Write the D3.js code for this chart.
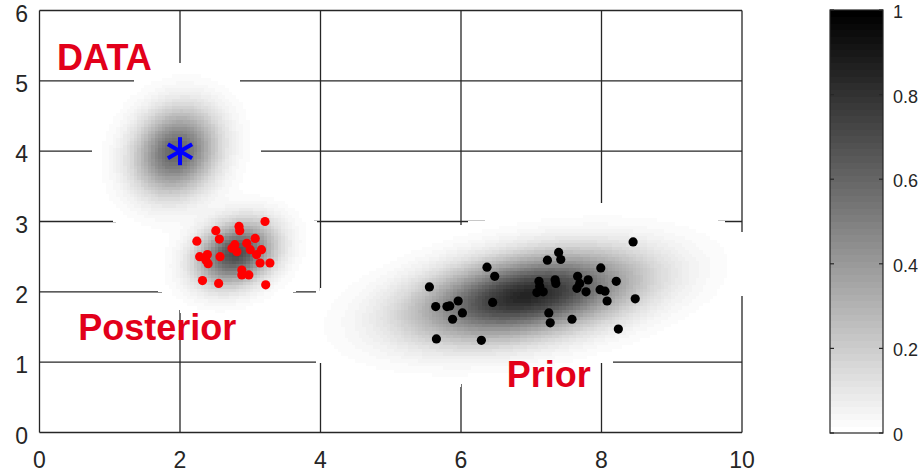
<!DOCTYPE html>
<html>
<head>
<meta charset="utf-8">
<script src="https://cdn.jsdelivr.net/npm/d3@7"></script>
<style>
  html, body { margin: 0; padding: 0; background: #ffffff; }
  svg { display: block; font-family: "Liberation Sans", Arial, Helvetica, sans-serif; }
</style>
</head>
<body>
<svg id="chart" width="921" height="474"></svg>
<script>
// ---- axis ticks ----
const xTicks = [0, 2, 4, 6, 8, 10];
const yTicks = [0, 1, 2, 3, 4, 5, 6];
const colorTicks = [0, 0.2, 0.4, 0.6, 0.8, 1];

// ---- observed datum ----
const dataX = [2];
const dataY = [4];

// ---- posterior samples (red) ----
const posteriorX = [2.24, 2.51, 2.56, 2.84, 2.85, 3.21, 2.28, 2.39, 2.40, 2.37, 2.57, 2.32, 2.55, 2.78,
                    2.81, 2.74, 2.95, 3.07, 3.00, 3.16, 3.09, 3.14, 3.28, 2.88, 2.88, 2.98, 3.22];
const posteriorY = [2.72, 2.87, 2.75, 2.93, 2.87, 3.00, 2.50, 2.53, 2.40, 2.45, 2.50, 2.16, 2.12, 2.67,
                    2.57, 2.62, 2.69, 2.76, 2.60, 2.60, 2.53, 2.41, 2.41, 2.31, 2.24, 2.24, 2.10];

// ---- prior samples (black) ----
const priorX = [5.55, 6.37, 6.48, 5.64, 5.80, 5.84, 5.96, 6.02, 5.88, 6.45, 5.65, 6.29, 8.45, 7.23,
                7.39, 7.42, 7.99, 7.11, 7.34, 7.35, 7.08, 7.17, 7.12, 7.66, 7.81, 7.65, 7.78, 7.69,
                8.21, 7.98, 8.05, 8.08, 8.48, 7.25, 7.27, 7.58, 8.24];
const priorY = [2.07, 2.35, 2.22, 1.79, 1.79, 1.80, 1.87, 1.70, 1.61, 1.85, 1.33, 1.31, 2.71, 2.45,
                2.56, 2.46, 2.34, 2.15, 2.17, 2.12, 1.99, 2.00, 2.08, 2.22, 2.17, 2.05, 2.00, 2.12,
                2.15, 2.03, 2.01, 1.87, 1.90, 1.70, 1.56, 1.61, 1.47];

// ---- density field: one bivariate normal bump per component ----
const blobNames = ["likelihood", "posterior", "prior"];
const blobCx   = [1.95, 2.80, 6.94];
const blobCy   = [4.00, 2.55, 1.95];
const blobSx   = [0.395, 0.371, 1.02];
const blobSy   = [0.405, 0.300, 0.40];
const blobRho  = [0.15, 0.234, 0.38];
const blobPeak = [0.60, 0.70, 0.85];
const densityFloor = 0.005;   // cells below this are left transparent
const cellSize = 0.05;        // grid resolution of the density image

// ---- text annotations (anchor in axis units) ----
const annotText = ["DATA", "Posterior", "Prior"];
const annotX = [0.25, 0.55, 6.65];
const annotY = [5.16, 1.32, 0.65];

// ---------------------------------------------------------------
const svg = d3.select("#chart");
const plot = { left: 39.5, right: 742, top: 10.5, bottom: 432.5 };
const cbar = { left: 830, right: 883, top: 10, bottom: 433 };
const ink = "#262626";
const red = "#e2001a";

const xScale = d3.scaleLinear().domain([0, 10]).range([plot.left, plot.right]);
const yScale = d3.scaleLinear().domain([0, 6]).range([plot.bottom, plot.top]);

// flipped gray colormap with 64 levels: 0 -> white, 1 -> black
const nLevels = 64;
function grayColor(v) {
  const k = Math.max(0, Math.min(nLevels - 1, Math.floor(v * nLevels)));
  const g = Math.round(255 * (1 - k / (nLevels - 1)));
  return d3.rgb(g, g, g).formatHex();
}

function density(x, y) {
  let s = 0;
  for (let i = 0; i < blobCx.length; i++) {
    const dx = (x - blobCx[i]) / blobSx[i];
    const dy = (y - blobCy[i]) / blobSy[i];
    const r = blobRho[i];
    const q = (dx * dx - 2 * r * dx * dy + dy * dy) / (1 - r * r);
    s += blobPeak[i] * Math.exp(-0.5 * q);
  }
  return Math.min(1, s);
}

// ---- grid and box (drawn first; density image sits over them) ----
const grid = svg.append("g").attr("stroke", ink).attr("stroke-width", 1.3).attr("fill", "none");
grid.selectAll("line.vx").data(xTicks).join("line")
  .attr("x1", d => xScale(d)).attr("x2", d => xScale(d))
  .attr("y1", plot.top).attr("y2", plot.bottom);
grid.selectAll("line.hy").data(yTicks).join("line")
  .attr("x1", plot.left).attr("x2", plot.right)
  .attr("y1", d => yScale(d)).attr("y2", d => yScale(d));

// ---- density image ----
const cells = [];
for (let gx = 0; gx < Math.round(10 / cellSize); gx++) {
  for (let gy = 0; gy < Math.round(6 / cellSize); gy++) {
    const x0 = gx * cellSize, y0 = gy * cellSize;
    const v = density(x0 + cellSize / 2, y0 + cellSize / 2);
    if (v >= densityFloor) cells.push({ x0, y0, v });
  }
}
svg.append("clipPath").attr("id", "plotClip")
  .append("rect")
  .attr("x", plot.left).attr("y", plot.top)
  .attr("width", plot.right - plot.left + 1.5).attr("height", plot.bottom - plot.top);
svg.append("g").attr("clip-path", "url(#plotClip)").attr("shape-rendering", "crispEdges")
  .selectAll("rect").data(cells).join("rect")
  .attr("x", d => Math.floor(xScale(d.x0)))
  .attr("y", d => Math.floor(yScale(d.y0 + cellSize)))
  .attr("width", d => Math.ceil(xScale(d.x0 + cellSize)) - Math.floor(xScale(d.x0)))
  .attr("height", d => Math.ceil(yScale(d.y0)) - Math.floor(yScale(d.y0 + cellSize)))
  .attr("fill", d => grayColor(d.v));

// ---- samples ----
const ptR = 4.6;
svg.append("g").selectAll("circle").data(d3.range(posteriorX.length)).join("circle")
  .attr("cx", i => xScale(posteriorX[i])).attr("cy", i => yScale(posteriorY[i]))
  .attr("r", ptR).attr("fill", "#ff0000");
svg.append("g").selectAll("circle").data(d3.range(priorX.length)).join("circle")
  .attr("cx", i => xScale(priorX[i])).attr("cy", i => yScale(priorY[i]))
  .attr("r", ptR).attr("fill", "#000000");

// ---- observed datum: asterisk marker ----
const starR = 14;
const star = svg.append("g").selectAll("g").data(d3.range(dataX.length)).join("g")
  .attr("transform", i => `translate(${xScale(dataX[i])},${yScale(dataY[i])})`)
  .attr("stroke", "#0000ff").attr("stroke-width", 4).attr("stroke-linecap", "butt");
[90, 30, -30].forEach(a => {
  const t = a * Math.PI / 180;
  star.append("line")
    .attr("x1", -starR * Math.cos(t)).attr("y1", -starR * Math.sin(t))
    .attr("x2", starR * Math.cos(t)).attr("y2", starR * Math.sin(t));
});

// ---- annotations ----
svg.append("g").selectAll("text").data(annotText).join("text")
  .attr("x", (d, i) => xScale(annotX[i])).attr("y", (d, i) => yScale(annotY[i]))
  .attr("fill", red).attr("font-weight", "bold").attr("font-size", 36)
  .text(d => d);

// ---- tick labels ----
svg.append("g").selectAll("text").data(xTicks).join("text")
  .attr("x", d => xScale(d)).attr("y", 468)
  .attr("text-anchor", "middle").attr("fill", ink).attr("font-size", 23)
  .text(d => d);
svg.append("g").selectAll("text").data(yTicks).join("text")
  .attr("x", 28).attr("y", d => yScale(d) + 11)
  .attr("text-anchor", "end").attr("fill", ink).attr("font-size", 23)
  .text(d => d);

// ---- colorbar ----
const cScale = d3.scaleLinear().domain([0, 1]).range([cbar.bottom, cbar.top]);
const bands = d3.range(nLevels);
svg.append("g").attr("shape-rendering", "crispEdges")
  .selectAll("rect").data(bands).join("rect")
  .attr("x", cbar.left)
  .attr("y", k => cScale((k + 1) / nLevels))
  .attr("width", cbar.right - cbar.left)
  .attr("height", k => cScale(k / nLevels) - cScale((k + 1) / nLevels) + 0.6)
  .attr("fill", k => grayColor((k + 0.5) / nLevels));
svg.append("rect")
  .attr("x", cbar.left).attr("y", cbar.top)
  .attr("width", cbar.right - cbar.left).attr("height", cbar.bottom - cbar.top)
  .attr("fill", "none").attr("stroke", ink).attr("stroke-width", 1.2);
const cTickG = svg.append("g").attr("stroke", ink).attr("stroke-width", 1.2);
cTickG.selectAll("line.l").data(colorTicks).join("line")
  .attr("x1", cbar.left).attr("x2", cbar.left + 4)
  .attr("y1", d => cScale(d)).attr("y2", d => cScale(d));
cTickG.selectAll("line.r").data(colorTicks).join("line").attr("class", "r")
  .attr("x1", cbar.right - 4).attr("x2", cbar.right)
  .attr("y1", d => cScale(d)).attr("y2", d => cScale(d));
svg.append("g").selectAll("text").data(colorTicks).join("text")
  .attr("x", 893).attr("y", d => cScale(d) + 8)
  .attr("fill", ink).attr("font-size", 18)
  .text(d => d);
</script>
</body>
</html>
